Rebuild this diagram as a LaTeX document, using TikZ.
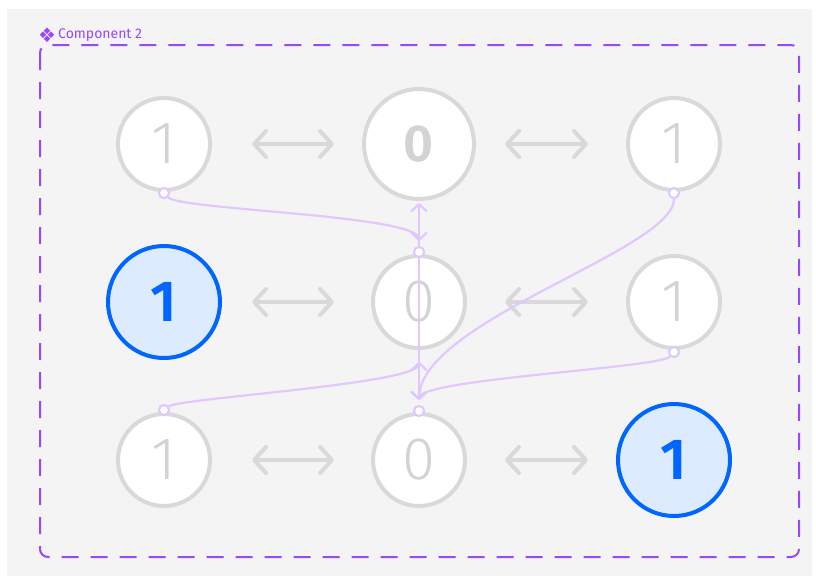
\documentclass[tikz,border=0pt]{standalone}
\usepackage{fontspec}
\setmainfont{Fira Sans}
\newfontfamily\lightdigits{Fira Sans Light}
\newfontfamily\semidigits{Fira Sans SemiBold}
\newfontfamily\symfont{DejaVu Sans}
\usetikzlibrary{arrows.meta}

\definecolor{panel}{HTML}{F4F4F4}
\definecolor{ring}{HTML}{D9D9D9}
\definecolor{digit}{HTML}{D3D3D3}
\definecolor{frame}{HTML}{9747FF}
\definecolor{linkc}{HTML}{E0C8FF}
\definecolor{hot}{HTML}{0066FF}
\definecolor{hotfill}{HTML}{DDEBFF}

\tikzset{
  cell/.style={circle, draw=ring, line width=4pt, fill=white, inner sep=0pt,
    minimum size=92pt, text=digit, font=\lightdigits\fontsize{60}{60}\selectfont},
  bigcell/.style={cell, minimum size=110pt, font=\semidigits\fontsize{52}{52}\selectfont},
  hotcell/.style={circle, draw=hot, line width=4pt, fill=hotfill, inner sep=0pt,
    minimum size=112pt, text=hot, font=\semidigits\fontsize{58}{58}\selectfont},
  port/.style={circle, draw=linkc, line width=2pt, fill=white, inner sep=0pt, minimum size=10pt},
  flow/.style={draw=linkc, line width=2.2pt, -{Straight Barb[length=7pt,width=15pt,round]}},
  swap/.style={draw=ring, line width=4pt, line cap=round,
    {Straight Barb[length=12pt,width=26pt,round]}-{Straight Barb[length=12pt,width=26pt,round]}},
  framebox/.style={draw=frame, line width=2pt, rounded corners=8pt, dash pattern=on 17pt off 12pt},
}

\begin{document}
\begin{tikzpicture}[x=1pt, y=-1pt]
  \useasboundingbox (0,0) rectangle (816,582);
  \fill[white] (0,0) rectangle (816,582);
  \fill[panel] (7,9) rectangle (812,576);

  % component frame and its label
  \draw[framebox] (40,45) rectangle (799,557);
  \node[anchor=center, inner sep=0pt, text=frame, font=\symfont\fontsize{20}{20}\selectfont]
    (icon) at (47,35) {❖};
  \node[anchor=west, inner sep=0pt, text=frame, font=\fontsize{14}{14}\selectfont]
    (title) at (58,35) {Component 2};

  % grid of cells
  \node[cell]    (a1) at (164,144) {1};
  \node[bigcell] (m1) at (419,144) {0};
  \node[cell]    (c1) at (674,144) {1};
  \node[hotcell] (a2) at (164,302) {1};
  \node[cell]    (m2) at (419,302) {0};
  \node[cell]    (c2) at (674,302) {1};
  \node[cell]    (a3) at (164,460) {1};
  \node[cell]    (m3) at (419,460) {0};
  \node[hotcell] (c3) at (674,460) {1};

  % swap arrows between neighbouring cells
  \foreach \r/\y in {1/144, 2/302, 3/460} {
    \coordinate (sl\r a) at (252,\y);
    \coordinate (sl\r b) at (334,\y);
    \coordinate (sr\r a) at (505,\y);
    \coordinate (sr\r b) at (588,\y);
    \draw[swap] (sl\r a) -- (sl\r b);
    \draw[swap] (sr\r a) -- (sr\r b);
  }

  % connection ports
  \coordinate (up2) at (419,362);
  \node[port] (p1) at (164,193) {};
  \node[port] (p2) at (419,252) {};
  \node[port] (p3) at (674,193) {};
  \node[port] (p4) at (674,352) {};
  \node[port] (p5) at (164,410) {};
  \node[port] (p6) at (419,411) {};

  % flows between cells
  \draw[flow, shorten >=5pt] (p1) .. controls +(16,17) and +(0,-37) .. (p2);
  \draw[flow, shorten >=2pt] (p2) -- (m1);
  \draw[flow, shorten >=5pt] (p2) -- (p6);
  \draw[flow, shorten >=5pt] (p3) .. controls +(0,57) and +(0,-90) .. (p6);
  \draw[flow, shorten >=5pt] (p4) .. controls +(-14,16) and +(0,-32) .. (p6);
  \draw[flow] (p5) .. controls +(16,-12) and +(0,22) .. (up2);

  % redraw ports above the flow lines
  \foreach \p in {p1,p2,p3,p4,p5,p6}
    \draw[linkc, line width=2pt, fill=white] (\p) circle (5pt);
\end{tikzpicture}
\end{document}
